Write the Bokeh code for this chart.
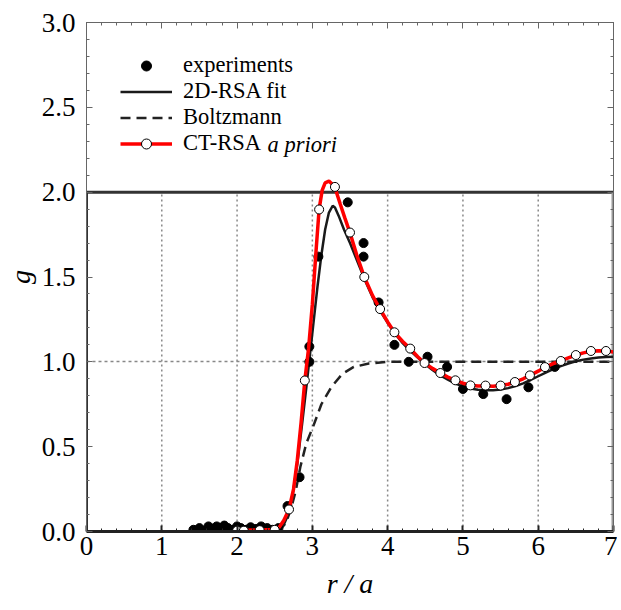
from bokeh.plotting import figure
from bokeh.models import (Range1d, LinearAxis, SingleIntervalTicker, FixedTicker,
                          PrintfTickFormatter, Legend, LegendItem, Label)
from bokeh.embed import file_html
from bokeh.resources import INLINE

# ---------------- data ----------------
exp_r = [1.42, 1.50, 1.57, 1.62, 1.68, 1.73, 1.78, 1.83, 1.88, 1.95, 2.00, 2.05,
         2.12, 2.18, 2.25, 2.32, 2.40, 2.47, 2.55, 2.67, 2.83, 2.96, 2.96, 3.08,
         3.47, 3.68, 3.68, 3.88, 4.09, 4.28, 4.53, 4.79, 5.00, 5.27, 5.58, 5.87, 6.22]
exp_g = [0.01, 0.02, 0.005, 0.03, 0.015, 0.03, 0.02, 0.035, 0.02, 0.01, 0.03, 0.02,
         0.01, 0.025, 0.015, 0.03, 0.02, 0.01, 0.02, 0.15, 0.32, 1.00, 1.09, 1.62,
         1.94, 1.70, 1.62, 1.35, 1.10, 1.00, 1.03, 0.97, 0.84, 0.81, 0.78, 0.85, 0.97]

fit_r = [2.45, 2.55, 2.62, 2.68, 2.74, 2.80, 2.86, 2.92, 2.97, 3.02, 3.07, 3.12,
         3.17, 3.22, 3.27, 3.30, 3.35, 3.42, 3.50, 3.60, 3.70, 3.80, 3.90, 4.0,
         4.1, 4.2, 4.3, 4.4, 4.5, 4.6, 4.7, 4.8, 4.9, 5.0, 5.1, 5.2, 5.3, 5.4, 5.5,
         5.6, 5.7, 5.8, 5.9, 6.0, 6.1, 6.2, 6.3, 6.4, 6.5, 6.6, 6.7, 6.8, 6.9, 7.0]
fit_g = [0.0, 0.01, 0.04, 0.10, 0.22, 0.40, 0.62, 0.85, 1.05, 1.25, 1.45, 1.63,
         1.78, 1.88, 1.92, 1.91, 1.86, 1.78, 1.70, 1.59, 1.48, 1.38, 1.30, 1.23,
         1.165, 1.11, 1.065, 1.025, 0.985, 0.95, 0.92, 0.895, 0.872, 0.855, 0.843,
         0.836, 0.833, 0.833, 0.837, 0.845, 0.857, 0.873, 0.893, 0.915, 0.937,
         0.957, 0.975, 0.99, 1.003, 1.013, 1.02, 1.025, 1.028, 1.03]

boltz_r = [2.55, 2.65, 2.72, 2.78, 2.84, 2.92, 3.02, 3.12, 3.25, 3.40, 3.55, 3.75,
           4.0, 4.5, 5.0, 6.0, 7.0]
boltz_g = [0.0, 0.05, 0.14, 0.24, 0.38, 0.52, 0.63, 0.75, 0.85, 0.93, 0.97, 0.99,
           1.0, 1.0, 1.0, 1.0, 1.0]

ct_line_r = [2.09, 2.3, 2.5, 2.56, 2.62, 2.69, 2.75, 2.80, 2.85, 2.90, 2.95, 3.00,
             3.05, 3.09, 3.13, 3.17, 3.22, 3.27, 3.32, 3.37, 3.43, 3.50, 3.59, 3.69,
             3.80, 3.90, 4.00, 4.09, 4.20, 4.30, 4.40, 4.49, 4.60, 4.70, 4.80, 4.90,
             5.00, 5.10, 5.20, 5.30, 5.40, 5.50, 5.60, 5.69, 5.80, 5.89, 6.00, 6.09,
             6.20, 6.30, 6.40, 6.50, 6.60, 6.70, 6.80, 6.90, 7.00]
ct_line_g = [0.008, 0.01, 0.012, 0.025, 0.065, 0.13, 0.25, 0.42, 0.64, 0.89, 1.08,
             1.34, 1.66, 1.90, 2.01, 2.055, 2.065, 2.045, 2.00, 1.93, 1.85, 1.76,
             1.63, 1.50, 1.39, 1.31, 1.235, 1.174, 1.12, 1.078, 1.03, 0.993, 0.96,
             0.934, 0.91, 0.891, 0.874, 0.862, 0.858, 0.857, 0.856, 0.86, 0.868,
             0.881, 0.90, 0.92, 0.945, 0.969, 0.99, 1.005, 1.023, 1.04, 1.053,
             1.062, 1.066, 1.064, 1.058]

ct_pts_r = [2.0, 2.09, 2.3, 2.5, 2.69, 2.9, 3.09, 3.3, 3.5, 3.69, 3.9, 4.09, 4.3,
            4.49, 4.7, 4.9, 5.1, 5.3, 5.5, 5.69, 5.89, 6.09, 6.3, 6.5, 6.7, 6.9]
ct_pts_g = [0.005, 0.005, 0.008, 0.01, 0.13, 0.89, 1.898, 2.031, 1.762, 1.50, 1.311,
            1.174, 1.078, 0.993, 0.934, 0.891, 0.861, 0.86, 0.86, 0.881, 0.920,
            0.969, 1.005, 1.04, 1.064, 1.064]

x_major = [0, 1, 2, 3, 4, 5, 6, 7]
y_major = [0.0, 0.5, 1.0, 1.5, 2.0, 2.5, 3.0]

# background (scanned figure) frame and grid
scan_grid_r = [1, 2, 3, 4, 5, 6]
scan_box_r = [0, 0, 7]
scan_box_g = [0, 2, 2]
scan_right_r = [7, 7]
scan_right_g = [0, 2]

FONT = "Liberation Serif"
TICK_FS = "27px"

p = figure(frame_width=527, frame_height=509, x_range=Range1d(0, 7), y_range=Range1d(0, 3),
           output_backend="svg", toolbar_location=None,
           min_border_left=86, min_border_right=4, min_border_top=22,
           min_border_bottom=70, x_axis_label="r / a", y_axis_label="g")
p.background_fill_color = "white"
p.border_fill_color = "white"
p.outline_line_color = "#666666"
p.outline_line_width = 1

# grids
p.xgrid.visible = False
p.ygrid.ticker = FixedTicker(ticks=[1.0])
p.ygrid.grid_line_color = "#888888"
p.ygrid.grid_line_dash = "3 3"
p.ygrid.grid_line_width = 1.5

xt = SingleIntervalTicker(interval=1, num_minor_ticks=5)
yt = SingleIntervalTicker(interval=0.5, num_minor_ticks=5)

def style_axis(ax, color="#666666"):
    ax.major_tick_in = 6
    ax.major_tick_out = 0
    ax.minor_tick_in = 3
    ax.minor_tick_out = 0
    ax.axis_line_color = color
    ax.major_tick_line_color = color
    ax.minor_tick_line_color = color
    ax.major_label_text_font = FONT
    ax.major_label_text_font_size = TICK_FS
    ax.major_label_text_color = "black"
    ax.axis_label_text_font = FONT
    ax.axis_label_text_font_size = "28px"
    ax.axis_label_text_font_style = "italic"
    ax.axis_label_text_color = "black"

xa = p.xaxis[0]
xa.ticker = xt
style_axis(xa, color="#222222")
xa.axis_line_width = 3
xa.major_tick_line_width = 2
xa.major_label_standoff = 5
xa.axis_label_standoff = 10

ya = p.yaxis[0]
ya.ticker = yt
ya.formatter = PrintfTickFormatter(format="%.1f")
style_axis(ya)
ya.major_label_standoff = 11
ya.axis_label_standoff = 3

top = LinearAxis(ticker=xt, major_label_overrides={v: "" for v in x_major})
style_axis(top)
top.major_label_standoff = 0
top.axis_label_standoff = 0
p.add_layout(top, "above")
right = LinearAxis(ticker=yt, major_label_overrides={v: "" for v in y_major})
style_axis(right)
right.major_label_standoff = 0
right.axis_label_standoff = 0
p.add_layout(right, "right")

# scanned figure decorations
p.segment(x0=scan_grid_r, y0=[0] * len(scan_grid_r), x1=scan_grid_r,
          y1=[2] * len(scan_grid_r), line_color="#888888", line_width=1.5,
          line_dash="2 3")
p.line(scan_box_r, scan_box_g, line_color="#333333", line_width=3)
p.line(scan_right_r, scan_right_g, line_color="#999999", line_width=4)

# curves
r_bz = p.line(boltz_r, boltz_g, line_color="#222222", line_width=2.5, line_dash="10 6")
r_fit = p.line(fit_r, fit_g, line_color="#1a1a1a", line_width=2.5)
r_exp = p.scatter(exp_r, exp_g, size=9, fill_color="black", line_color="black")
r_ctl = p.line(ct_line_r, ct_line_g, line_color="#ff0000", line_width=3.5)
r_ctp = p.scatter(ct_pts_r, ct_pts_g, size=9, fill_color="white", line_color="black",
                  line_width=1)

legend = Legend(items=[
    LegendItem(label="experiments", renderers=[r_exp]),
    LegendItem(label="2D-RSA fit", renderers=[r_fit]),
    LegendItem(label="Boltzmann", renderers=[r_bz]),
    LegendItem(label="CT-RSA", renderers=[r_ctl, r_ctp]),
], location=(34, 375))
legend.background_fill_alpha = 0
legend.border_line_alpha = 0
legend.padding = 0
legend.margin = 0
legend.spacing = 0
legend.glyph_width = 52
legend.glyph_height = 25
legend.label_height = 25
legend.label_standoff = 11
legend.label_text_font = FONT
legend.label_text_font_size = "22.5px"
legend.label_text_color = "black"
p.add_layout(legend)

p.add_layout(Label(x=181, y=387, x_units="screen", y_units="screen", text="a priori",
                   text_font=FONT, text_font_size="22.5px", text_font_style="italic",
                   text_baseline="middle", text_color="black"))

open("out.html", "w").write(file_html(p, INLINE))
